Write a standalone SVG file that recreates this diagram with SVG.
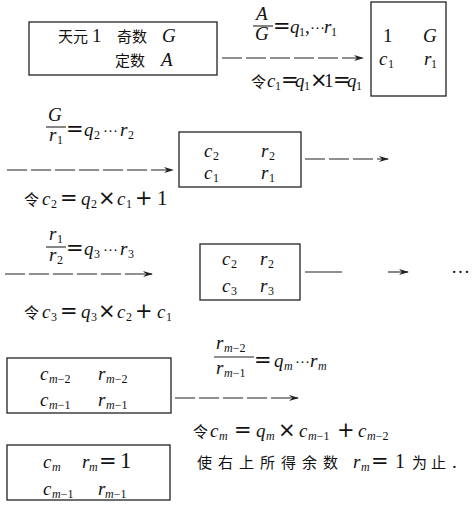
<svg xmlns="http://www.w3.org/2000/svg" width="474" height="507" viewBox="0 0 474 507">
<style>
text{font-family:"Liberation Serif","Noto Sans CJK SC",serif;font-size:19px;fill:#111}
.i{font-style:italic}
.s{font-size:12px;font-style:normal}
.si{font-size:12px;font-style:italic}
.op{font-family:"DejaVu Sans",sans-serif;font-size:21px;font-style:normal}
.dots{font-size:15px;font-style:normal}
.cjk{font-family:"Noto Sans CJK SC",sans-serif;font-size:15px;font-style:normal}
.box{fill:none;stroke:#222;stroke-width:1.3}
.ln{stroke:#222;stroke-width:1.1;fill:none}
.d{stroke-dasharray:20 4}
</style>
<defs>
<marker id="ah" markerWidth="10" markerHeight="8" refX="9" refY="4" orient="auto" markerUnits="userSpaceOnUse">
<path d="M0,1 L10,4 L0,7 L3,4 Z" fill="#222"/>
</marker>
</defs>
<rect width="474" height="507" fill="#fff"/>

<g id="n1">
<rect class="box" x="29" y="22" width="188" height="53"/>
<text x="58" y="42" class="cjk">天元</text><text x="92" y="42">1</text>
<text x="117" y="42" class="cjk">奇数</text><text x="162" y="42" class="i">G</text>
<text x="115" y="66" class="cjk">定数</text><text x="161" y="66" class="i">A</text>
</g>

<g id="n2">
<rect class="box" x="371" y="2" width="75" height="94"/>
<text x="383" y="42">1</text><text x="423" y="42" class="i">G</text>
<text y="65" class="i"><tspan x="379">c</tspan><tspan class="s" x="388" y="68">1</tspan></text>
<text y="65" class="i"><tspan x="424">r</tspan><tspan class="s" x="431" y="68">1</tspan></text>
</g>

<g id="n3">
<rect class="box" x="179" y="132" width="122" height="55"/>
<text y="157" class="i"><tspan x="204">c</tspan><tspan class="s" x="213" y="160">2</tspan></text>
<text y="157" class="i"><tspan x="261">r</tspan><tspan class="s" x="269" y="160">2</tspan></text>
<text y="179" class="i"><tspan x="204">c</tspan><tspan class="s" x="213" y="182">1</tspan></text>
<text y="179" class="i"><tspan x="261">r</tspan><tspan class="s" x="269" y="182">1</tspan></text>
</g>

<g id="n4">
<rect class="box" x="200" y="244" width="100" height="56"/>
<text y="265" class="i"><tspan x="222">c</tspan><tspan class="s" x="231" y="268">2</tspan></text>
<text y="265" class="i"><tspan x="260">r</tspan><tspan class="s" x="268" y="268">2</tspan></text>
<text y="292" class="i"><tspan x="222">c</tspan><tspan class="s" x="231" y="295">3</tspan></text>
<text y="292" class="i"><tspan x="260">r</tspan><tspan class="s" x="268" y="295">3</tspan></text>
</g>

<g id="n5">
<rect class="box" x="7" y="358" width="164" height="55"/>
<text y="380" class="i"><tspan x="40">c</tspan><tspan class="si" x="49" y="383">m</tspan><tspan class="s">−2</tspan></text>
<text y="380" class="i"><tspan x="98">r</tspan><tspan class="si" x="106" y="383">m</tspan><tspan class="s">−2</tspan></text>
<text y="406" class="i"><tspan x="40">c</tspan><tspan class="si" x="49" y="409">m</tspan><tspan class="s">−1</tspan></text>
<text y="406" class="i"><tspan x="98">r</tspan><tspan class="si" x="106" y="409">m</tspan><tspan class="s">−1</tspan></text>
</g>

<g id="n6">
<rect class="box" x="7" y="445" width="163" height="55"/>
<text y="468" class="i"><tspan x="43">c</tspan><tspan class="si" x="52" y="471">m</tspan></text>
<text y="468" class="i"><tspan x="82">r</tspan><tspan class="si" x="89" y="471">m</tspan><tspan class="op" x="99" y="468" font-size="22">=</tspan><tspan x="120" font-style="normal" font-size="23">1</tspan></text>
<text y="495" class="i"><tspan x="43">c</tspan><tspan class="si" x="52" y="498">m</tspan><tspan class="s">−1</tspan></text>
<text y="495" class="i"><tspan x="98">r</tspan><tspan class="si" x="105" y="498">m</tspan><tspan class="s">−1</tspan></text>
</g>

<g id="connectors">
<line class="ln d" x1="222" y1="58" x2="363" y2="58" marker-end="url(#ah)"/>
<line class="ln d" x1="7" y1="170" x2="173" y2="170" marker-end="url(#ah)"/>
<line class="ln d" x1="305" y1="159" x2="388" y2="159" marker-end="url(#ah)"/>
<line class="ln d" x1="5" y1="274" x2="152" y2="274" marker-end="url(#ah)"/>
<line class="ln" x1="305" y1="272" x2="342" y2="272"/>
<line class="ln" x1="388" y1="272" x2="408" y2="272" marker-end="url(#ah)"/>
<line class="ln d" x1="175" y1="398" x2="298" y2="398" marker-end="url(#ah)"/>
</g>

<g id="labels">
<!-- A/G -->
<text x="256" y="20" class="i" font-size="18">A</text>
<line class="ln" x1="253" y1="26" x2="273" y2="26"/>
<text x="255" y="40" class="i" font-size="18">G</text>
<text y="33" class="i"><tspan class="op" x="273" font-size="17">=</tspan><tspan x="290">q</tspan><tspan class="s" x="299" y="36">1</tspan><tspan font-style="normal" x="305" y="33">,</tspan><tspan class="dots" x="310">···</tspan><tspan x="324">r</tspan><tspan class="s" x="331" y="36">1</tspan></text>
<text y="87" class="i" font-size="17"><tspan class="cjk" x="251" font-size="14">令</tspan><tspan x="267">c</tspan><tspan class="s" x="275" y="90" font-size="11">1</tspan><tspan class="op" x="281" y="87" font-size="15">=</tspan><tspan x="295">q</tspan><tspan class="s" x="304" y="90" font-size="11">1</tspan><tspan class="op" x="310" y="87" font-size="15">×</tspan><tspan font-style="normal" x="324">1</tspan><tspan class="op" x="333" font-size="15">=</tspan><tspan x="347">q</tspan><tspan class="s" x="356" y="90" font-size="11">1</tspan></text>

<!-- G/r1 -->
<text x="48" y="121" class="i" font-size="18">G</text>
<line class="ln" x1="46" y1="127" x2="66" y2="127"/>
<text y="141" class="i" font-size="18"><tspan x="49">r</tspan><tspan class="s" x="57" y="144">1</tspan></text>
<text y="136" class="i"><tspan class="op" x="66">=</tspan><tspan x="84">q</tspan><tspan class="s" x="94" y="139">2</tspan><tspan class="dots" x="103" y="136">···</tspan><tspan x="120">r</tspan><tspan class="s" x="128" y="139">2</tspan></text>
<text y="205" class="i"><tspan class="cjk" x="24" font-size="16">令</tspan><tspan x="42">c</tspan><tspan class="s" x="51" y="208">2</tspan><tspan class="op" x="60" y="205">=</tspan><tspan x="81">q</tspan><tspan class="s" x="91" y="208">2</tspan><tspan class="op" x="98" y="205">×</tspan><tspan x="117">c</tspan><tspan class="s" x="126" y="208">1</tspan><tspan class="op" x="135" y="205">+</tspan><tspan font-style="normal" x="157" font-size="21">1</tspan></text>

<!-- r1/r2 -->
<text y="240" class="i" font-size="18"><tspan x="49">r</tspan><tspan class="s" x="57" y="243">1</tspan></text>
<line class="ln" x1="46" y1="247" x2="66" y2="247"/>
<text y="261" class="i" font-size="18"><tspan x="49">r</tspan><tspan class="s" x="57" y="264">2</tspan></text>
<text y="255" class="i"><tspan class="op" x="66">=</tspan><tspan x="84">q</tspan><tspan class="s" x="94" y="258">3</tspan><tspan class="dots" x="103" y="255">···</tspan><tspan x="120">r</tspan><tspan class="s" x="128" y="258">3</tspan></text>
<text y="318" class="i"><tspan class="cjk" x="24" font-size="16">令</tspan><tspan x="42">c</tspan><tspan class="s" x="51" y="321">3</tspan><tspan class="op" x="60" y="318">=</tspan><tspan x="81">q</tspan><tspan class="s" x="91" y="321">3</tspan><tspan class="op" x="98" y="318">×</tspan><tspan x="117">c</tspan><tspan class="s" x="126" y="321">2</tspan><tspan class="op" x="135" y="318">+</tspan><tspan x="157">c</tspan><tspan class="s" x="166" y="321">1</tspan></text>

<text x="451" y="278" font-size="20">···</text>

<!-- rm-2/rm-1 -->
<text y="349" class="i" font-size="18"><tspan x="216">r</tspan><tspan class="si" x="224" y="352">m</tspan><tspan class="s">−2</tspan></text>
<line class="ln" x1="214" y1="357" x2="254" y2="357"/>
<text y="374" class="i" font-size="18"><tspan x="216">r</tspan><tspan class="si" x="224" y="377">m</tspan><tspan class="s">−1</tspan></text>
<text y="367" class="i"><tspan class="op" x="254">=</tspan><tspan x="274">q</tspan><tspan class="si" x="284" y="370">m</tspan><tspan class="dots" x="295" y="367">···</tspan><tspan x="310">r</tspan><tspan class="si" x="318" y="370">m</tspan></text>
<text y="437" class="i"><tspan class="cjk" x="193" font-size="16">令</tspan><tspan x="210">c</tspan><tspan class="si" x="219" y="440">m</tspan><tspan class="op" x="234" y="437">=</tspan><tspan x="256">q</tspan><tspan class="si" x="266" y="440">m</tspan><tspan class="op" x="278" y="437">×</tspan><tspan x="299">c</tspan><tspan class="si" x="308" y="440">m</tspan><tspan class="s">−1</tspan><tspan class="op" x="337" y="437">+</tspan><tspan x="358">c</tspan><tspan class="si" x="367" y="440">m</tspan><tspan class="s">−2</tspan></text>

<text y="468" class="i"><tspan class="cjk" x="197" font-size="17" letter-spacing="6">使右上所得余数</tspan><tspan x="353">r</tspan><tspan class="si" x="361" y="471">m</tspan><tspan class="op" x="371" y="468" font-size="22">=</tspan><tspan font-style="normal" x="395" font-size="20">1</tspan><tspan class="cjk" x="412" font-size="17" letter-spacing="4">为止</tspan><tspan font-style="normal" x="452">.</tspan></text>
</g>
</svg>
